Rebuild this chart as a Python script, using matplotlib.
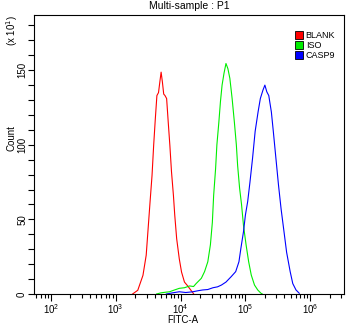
import numpy as np
import matplotlib.pyplot as plt
from matplotlib.patches import Patch
from matplotlib.ticker import LogLocator, NullFormatter, MultipleLocator

plt.rcParams["font.family"] = ["Liberation Sans", "DejaVu Sans"]

# -----------------------------
# Histogram outlines (log10 of FITC-A, count / 10)
# -----------------------------
blank_logx = [3.26, 3.34, 3.42, 3.47, 3.50, 3.53, 3.56, 3.585, 3.61, 3.635, 3.66, 3.68,
              3.70, 3.72, 3.74, 3.76, 3.785, 3.81, 3.835, 3.86, 3.89, 3.91, 3.94, 3.98,
              4.015, 4.06, 4.11, 4.16, 4.20]
blank_cnt = [0.0, 2.5, 12.5, 26, 44, 62, 79.5, 99.6, 117, 133, 135, 142,
             148.7, 142, 134, 133, 131, 115, 99.6, 82, 66, 53, 37, 23.6,
             14.7, 8, 5.4, 2.5, 0.2]

iso_logx = [3.63, 3.70, 3.77, 3.83, 3.90, 3.98, 4.06, 4.14, 4.20, 4.24, 4.32, 4.37, 4.42,
            4.46, 4.49, 4.51, 4.54, 4.56, 4.59, 4.615, 4.64, 4.67, 4.70, 4.73, 4.76,
            4.795, 4.83, 4.86, 4.88, 4.91, 4.94, 4.97, 5.01, 5.05, 5.09, 5.14, 5.19, 5.24, 5.26]
iso_cnt = [0.0, 0.8, 1.2, 1.5, 2.6, 3.8, 4.2, 5.4, 5.0, 7, 10.5, 15, 21.6,
           33, 48, 66, 84, 100, 115, 129, 140, 148, 154.5, 151, 144.5,
           131, 115, 100, 86, 71, 60, 46, 33, 21.6, 12.7, 6, 2.7, 0.5, 0.0]

casp9_logx = [3.78, 3.88, 3.98, 4.08, 4.19, 4.27, 4.34, 4.42, 4.50, 4.57, 4.63, 4.70, 4.78,
              4.85, 4.90, 4.93, 4.97, 5.00, 5.035, 5.07, 5.11, 5.15, 5.195, 5.23, 5.27,
              5.30, 5.33, 5.36, 5.40, 5.43, 5.47, 5.51, 5.55, 5.595, 5.635, 5.69, 5.73,
              5.78, 5.83]
casp9_cnt = [0.0, 0.8, 1.5, 1.0, 1.5, 2.2, 2.7, 3.0, 4.2, 4.8, 6, 8, 11.6,
             15, 21.6, 30.6, 41.7, 53, 62, 75, 91, 109, 122, 131, 136.6,
             140, 135.5, 133, 122, 109, 91, 73, 57, 41.7, 28, 15, 7,
             2.7, 0.5]

labels = ["BLANK", "ISO", "CASP9"]
colors = ["#ff0000", "#00ee00", "#0000ff"]

# -----------------------------
# Plot
# -----------------------------
fig = plt.figure(figsize=(3.5, 3.26), dpi=100)
ax = fig.add_axes([34 / 350, 32 / 326, 310 / 350, 279 / 326])

for lx, cnt, c in zip([blank_logx, iso_logx, casp9_logx],
                      [blank_cnt, iso_cnt, casp9_cnt], colors):
    ax.plot(10 ** np.array(lx), cnt, color=c, linewidth=0.8)

ax.set_xscale("log")
ax.set_xlim(10 ** 1.74, 10 ** 6.52)
ax.set_ylim(0, 187)

ax.xaxis.set_major_locator(LogLocator(base=10, numticks=10))
ax.xaxis.set_minor_locator(LogLocator(base=10, subs=np.arange(2, 10), numticks=20))
ax.xaxis.set_minor_formatter(NullFormatter())
ax.yaxis.set_major_locator(MultipleLocator(50))
ax.yaxis.set_minor_locator(MultipleLocator(10))

ax.tick_params(axis="both", which="both", direction="out", labelsize=7, width=0.8)
ax.tick_params(axis="x", which="major", length=5, pad=1)
ax.tick_params(axis="x", which="minor", length=3)
ax.tick_params(axis="y", which="both", length=4, pad=1)
for lab in ax.get_yticklabels():
    lab.set_rotation(90)
    lab.set_va("center")

for s in ax.spines.values():
    s.set_linewidth(0.8)

ax.set_title("Multi-sample : P1", fontsize=7.5, pad=4)
ax.set_xlabel("FITC-A", fontsize=7, labelpad=0)
ax.xaxis.set_label_coords(0.48, -0.075)
ax.set_ylabel("Count", fontsize=7)
ax.yaxis.set_label_coords(-0.055, 0.56)
fig.text(12 / 350, 1 - 30 / 326, "(x 10$^1$)", rotation=90, fontsize=7,
         ha="center", va="center")

handles = [Patch(facecolor=c, edgecolor="black", linewidth=0.6) for c in colors]
ax.legend(handles, labels, loc="upper left", bbox_to_anchor=(0.83, 0.955),
          frameon=False, fontsize=6.5, handlelength=0.9, handleheight=0.9,
          handletextpad=0.3, labelspacing=0.12, borderaxespad=0)

plt.savefig("out.png", dpi=100)
